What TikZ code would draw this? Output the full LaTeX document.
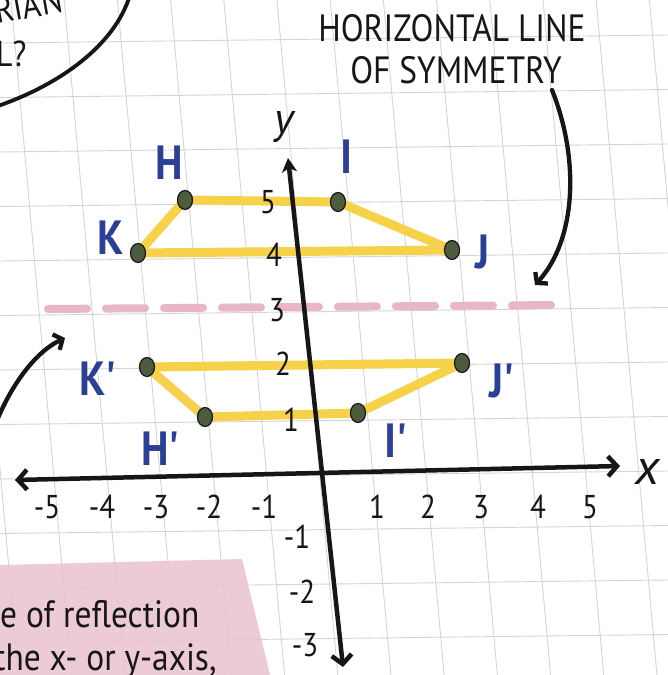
\documentclass[tikz,border=0pt]{standalone}
\usepackage{fontspec}
\setmainfont{PT Sans}
\newfontfamily\hand[FakeStretch=0.88]{PT Sans}
\usetikzlibrary{arrows.meta,shapes.geometric,calc}
\definecolor{gridc}{HTML}{D4D4D4}
\definecolor{yel}{HTML}{F5D24A}
\definecolor{dotc}{HTML}{4E5C3E}
\definecolor{bluec}{HTML}{2C3F96}
\definecolor{pinkd}{HTML}{E8B6C6}
\definecolor{pinkbox}{HTML}{E9C3CE}
\definecolor{ink}{HTML}{161616}
\newcommand{\pr}{\textquotesingle}
\tikzset{
  gridline/.style={gridc, line width=0.9pt},
  axisline/.style={ink, line width=4.5pt},
  barb/.tip={Straight Barb[length=9pt,width=20pt]},
  yelline/.style={yel, line width=9pt, line join=round, line cap=round},
  dotnode/.style={ellipse, draw=ink, line width=1.2pt, fill=dotc, minimum width=15pt, minimum height=19pt, inner sep=0pt},
  ptlabel/.style={bluec, font=\hand\bfseries\fontsize{48}{50}\selectfont, inner sep=0pt},
  numlabel/.style={ink, font=\hand\fontsize{33}{35}\selectfont, inner sep=0pt},
  caption/.style={ink, font=\hand\fontsize{38}{40}\selectfont, inner sep=0pt},
  boxtext/.style={ink, font=\hand\fontsize{38}{40}\selectfont, inner sep=0pt},
  curvearrow/.style={ink, line width=4.3pt, line cap=round, -{Straight Barb[length=7pt,width=17pt]}},
  pinkdash/.style={pinkd, line width=8pt, line cap=round, dash pattern=on 39pt off 19pt}
}
\begin{document}
\begin{tikzpicture}[x=1pt,y=-1pt]
\useasboundingbox (0,0) rectangle (668,675);
\clip (0,0) rectangle (668,675);
\fill[white] (0,0) rectangle (668,675);
% grid
\foreach \k in {-1,...,12} \draw[gridline] ({11+53.2*\k},0) -- ({11+53.2*\k+0.09*675},675);
\foreach \k in {0,...,11} \draw[gridline] (0,{43+54.5*\k}) -- (668,{43+54.5*\k-0.012*668});
% pink box
\fill[pinkbox, fill opacity=0.85] (0,565) -- (242,559) -- (270,675) -- (0,675) -- cycle;
\node[boxtext, anchor=base west] (t1) at (0,627) {e of reflection};
\node[boxtext, anchor=base west] (t2) at (-6,670) {the x- or y-axis,};
% speech bubble
\draw[ink, line width=3.8pt] (-5,107) .. controls (60,85) and (115,45) .. (130,-5);
\node[ink, font=\hand\fontsize{36}{38}\selectfont, inner sep=0pt, anchor=base west, rotate=10] (s1) at (-3,24) {RIAN};
\node[ink, font=\hand\fontsize{36}{38}\selectfont, inner sep=0pt, anchor=base west] (s2) at (-4,66) {L?};
% caption
\node[caption] (c1) at (452,28) {HORIZONTAL LINE};
\node[caption] (c2) at (456,70) {OF SYMMETRY};
\coordinate (ra0) at (552,90);
\coordinate (ra1) at (535,285);
\draw[curvearrow] (ra0) .. controls (580,160) and (576,240) .. (ra1);
\coordinate (la0) at (-2,418);
\coordinate (la1) at (65,338);
\draw[curvearrow] (la0) .. controls (12,385) and (35,352) .. (la1);
% line of symmetry
\coordinate (d0) at (48,309);
\coordinate (d1) at (560,305);
\draw[pinkdash] (d0) -- (d1);
% upper trapezoid
\coordinate (H) at (185,200);
\coordinate (I) at (338,202);
\coordinate (J) at (452,250);
\coordinate (K) at (138,253);
\draw[yelline] (H) -- (I) -- (J) -- (K) -- cycle;
% lower trapezoid
\coordinate (K2) at (147,367);
\coordinate (J2) at (462,363);
\coordinate (I2) at (358,413);
\coordinate (H2) at (205,417);
\draw[yelline] (K2) -- (J2) -- (I2) -- (H2) -- cycle;
% axes
\coordinate (xl) at (15,480);
\coordinate (xr) at (620,466);
\coordinate (yt) at (288,158);
\coordinate (yb) at (343,667);
\draw[axisline, {barb}-{barb}] (xl) -- (xr);
\draw[axisline, {Stealth[length=14pt,width=15pt,inset=4pt]}-{barb}] (yt) -- (yb);
\node[ink, font=\fontsize{50}{52}\selectfont\itshape, inner sep=0pt] (xlab) at (648,472) {x};
\node[ink, font=\fontsize{44}{46}\selectfont\itshape, inner sep=0pt] (ylab) at (284,127) {y};
% numbers
\foreach \t/\px/\py in {5/268/202, 4/274/255, 3/277/310, 2/283/364, 1/291/420, -1/297/537, -2/302/592, -3/305/645}
  \node[numlabel] (ny\t) at (\px,\py) {\t};
\foreach \t/\px in {-5/47, -4/102, -3/156, -2/209, -1/264, 1/377, 2/428, 3/481, 4/538, 5/590}
  \node[numlabel] (nx\t) at (\px,507) {\t};
\foreach \p in {H,I,J,K,K2,J2,I2,H2} \node[dotnode] (d\p) at (\p) {};
% point labels
\node[ptlabel] (lH) at (169,163) {H};
\node[ptlabel] (lI) at (347,157) {I};
\node[ptlabel] (lK) at (111,238) {K};
\node[ptlabel] (lJ) at (483,252) {J};
\node[ptlabel] (lK2) at (99,379) {K\pr};
\node[ptlabel] (lJ2) at (503,381) {J\pr};
\node[ptlabel] (lH2) at (161,449) {H\pr};
\node[ptlabel] (lI2) at (397,441) {I\pr};
\end{tikzpicture}
\end{document}
